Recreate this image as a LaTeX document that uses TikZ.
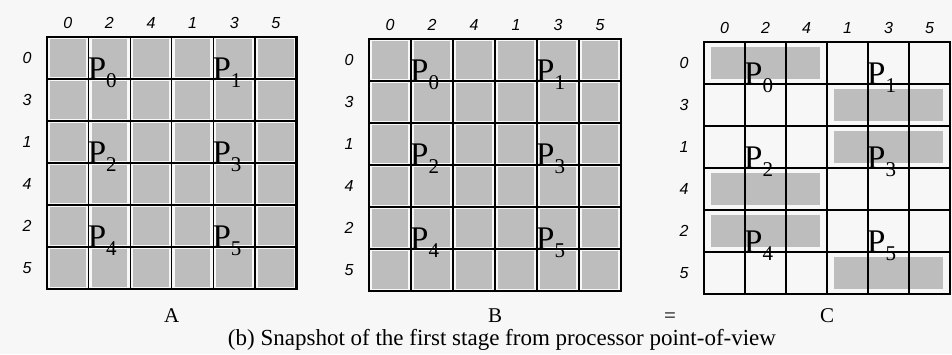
\documentclass[tikz,border=0pt]{standalone}
\usepackage{fontspec}
\setmainfont{Liberation Serif}
\newfontfamily\idxfont{Liberation Sans}
\usetikzlibrary{positioning}

% subscript of a processor label
\newcommand{\psub}[1]{{\fontsize{21}{21}\selectfont\raisebox{-8pt}{#1}}}
\def\resultname{C}

\begin{document}
\begin{tikzpicture}[
  x=1pt, y=-1pt,
  cellfill/.style={fill=black!26},
  gridline/.style={line width=1.1pt},
  frame/.style={line width=2.4pt},
  idx/.style={font=\idxfont\itshape\fontsize{16}{16}\selectfont, inner sep=0pt},
  proc/.style={font=\fontsize{33}{33}\selectfont, inner sep=0pt, anchor=base west},
  matname/.style={font=\fontsize{21}{21}\selectfont, inner sep=0pt}
]
\useasboundingbox[fill=black!3] (0,0) rectangle (952,354);

\foreach \m/\ox/\oy/\cw in {A/47/37/41.6, B/369/39/42, C/704/42/41}{
  \begin{scope}[shift={(\ox,\oy)}]
    \def\ch{42}
    % shading
    \ifx\m\resultname
      \foreach \r/\c in {0/0, 1/3, 2/3, 3/0, 4/0, 5/3}
        \fill[cellfill] ({\c*\cw+7}, {\r*\ch+5}) rectangle ({(\c+3)*\cw-7}, {(\r+1)*\ch-5});
    \else
      \foreach \r in {0,...,5}
        \foreach \c in {0,...,5}
          \fill[cellfill] ({\c*\cw+3}, {\r*\ch+2}) rectangle ({(\c+1)*\cw-3}, {(\r+1)*\ch-2});
    \fi
    % grid
    \foreach \i in {1,...,5}{
      \draw[gridline] ({\i*\cw}, 0) -- ({\i*\cw}, {6*\ch});
      \draw[gridline] (0, {\i*\ch}) -- ({6*\cw}, {\i*\ch});
    }
    \draw[frame] (0,0) rectangle ({6*\cw}, {6*\ch});
    % indices
    \foreach \lab [count=\i from 0] in {0,2,4,1,3,5}
      \node[idx] (\m-col\i) at ({(\i+0.5)*\cw}, -14) {\lab};
    \foreach \lab [count=\i from 0] in {0,3,1,4,2,5}
      \node[idx] (\m-row\i) at (-20, {(\i+0.5)*\ch}) {\lab};
    % processors
    \foreach \k in {0,1,2}
      \foreach \j in {0,1}{
        \pgfmathtruncatemacro\p{2*\k+\j}
        \node[proc] (\m-p\p) at ({(1+3*\j)*\cw-1}, {(2*\k+1)*\ch}) {P\psub{\p}};
      }
    \node[matname] (\m-name) at ({3*\cw}, {316-\oy}) {\m};
  \end{scope}
}

\node[matname] (eq) at (670,318) {=};
\node[font=\fontsize{23}{23}\selectfont, inner sep=0pt] (caption) at (502,340)
  {(b) Snapshot of the first stage from processor point-of-view};
\end{tikzpicture}
\end{document}
